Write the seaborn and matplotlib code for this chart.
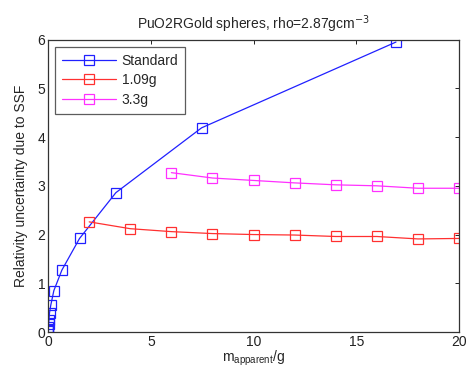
import matplotlib
matplotlib.use("Agg")
import matplotlib.pyplot as plt
import seaborn as sns
import pandas as pd

# Standard case
std_mass = [0.001, 0.005, 0.01, 0.02, 0.04, 0.07, 0.13, 0.28, 0.67, 1.53, 3.3, 7.47, 16.93]
std_unc = [0.02, 0.06, 0.10, 0.16, 0.24, 0.40, 0.55, 0.85, 1.27, 1.92, 2.86, 4.19, 5.95]

# 1.09 g case
g109_mass = [2, 4, 6, 8, 10, 12, 14, 16, 18, 20]
g109_unc = [2.26, 2.12, 2.06, 2.02, 2.00, 1.99, 1.96, 1.96, 1.91, 1.92]

# 3.3 g case
g33_mass = [6, 8, 10, 12, 14, 16, 18, 20]
g33_unc = [3.27, 3.16, 3.11, 3.06, 3.02, 3.00, 2.95, 2.95]

series_names = ["Standard", "1.09g", "3.3g"]
series_colors = ["#2020ff", "#ff3030", "#ff30ff"]

x_ticks = [0, 5, 10, 15, 20]
y_ticks = [0, 1, 2, 3, 4, 5, 6]

sns.set_style("white")
plt.rcParams["font.family"] = ["Liberation Sans", "DejaVu Sans"]
plt.rcParams["xtick.direction"] = "in"
plt.rcParams["ytick.direction"] = "in"

frames = []
for name, xs, ys in zip(series_names,
                        [std_mass, g109_mass, g33_mass],
                        [std_unc, g109_unc, g33_unc]):
    frames.append(pd.DataFrame({"mass": xs, "unc": ys, "series": name}))
df = pd.concat(frames, ignore_index=True)

fig = plt.figure(figsize=(4.67, 3.72), dpi=100)
ax = fig.add_axes([0.103, 0.1075, 0.880, 0.786])

for name, color in zip(series_names, series_colors):
    sub = df[df["series"] == name]
    sns.lineplot(data=sub, x="mass", y="unc", ax=ax, color=color,
                 marker="s", markersize=6.5, markerfacecolor="none",
                 markeredgecolor=color, markeredgewidth=0.9,
                 linewidth=0.9, sort=False, estimator=None, label=name)

ax.set_xlim(0, 20)
ax.set_ylim(0, 6)
ax.set_xticks(x_ticks)
ax.set_yticks(y_ticks)
ax.tick_params(axis="both", labelsize=10, length=3, width=0.7,
               top=True, right=True, colors="#222222", pad=2)
for s in ax.spines.values():
    s.set_color("#333333")
    s.set_linewidth(0.9)

ax.set_title("PuO2RGold spheres, rho=2.87gcm$^{-3}$", fontsize=10, pad=8)
ax.set_xlabel("m$_\\mathregular{apparent}$/g", fontsize=10, labelpad=0)
ax.set_ylabel("Relativity uncertainty due to SSF", fontsize=10, labelpad=7)

leg = ax.legend(loc="upper left", fontsize=10, frameon=True, fancybox=False,
                edgecolor="#333333", handlelength=3.9, borderaxespad=0.5,
                labelspacing=0.4, handletextpad=0.4, borderpad=0.5)
leg.get_frame().set_linewidth(0.9)

fig.savefig("out.png", dpi=100, facecolor="white")
